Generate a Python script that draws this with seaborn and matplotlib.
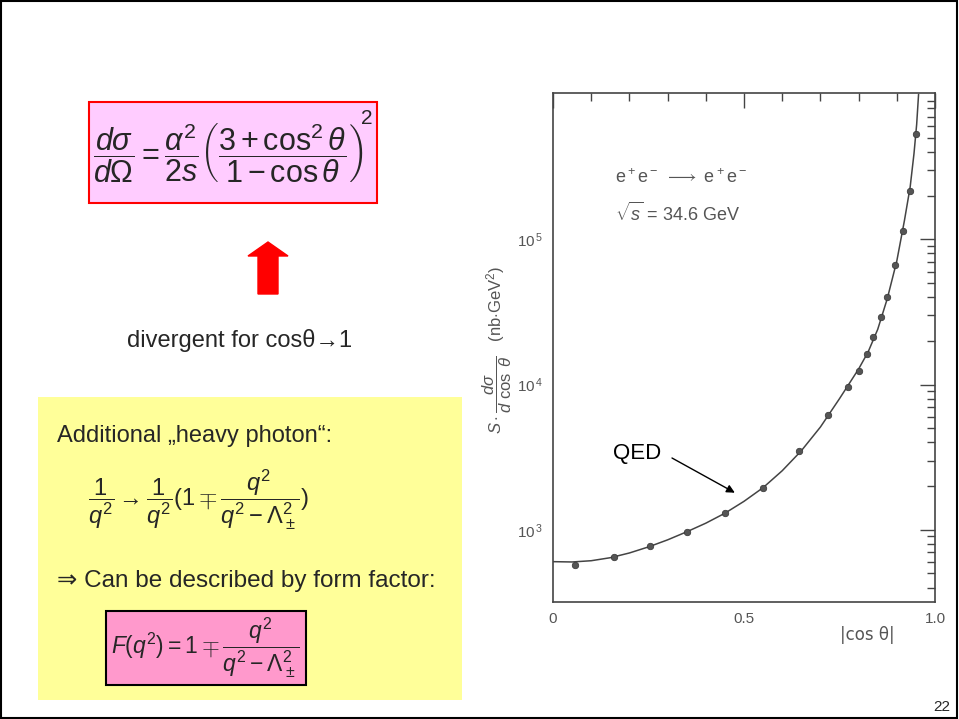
import numpy as np
import pandas as pd
import matplotlib
matplotlib.use("Agg")
import matplotlib.pyplot as plt
import matplotlib.patches as mpatches
from matplotlib.ticker import FixedLocator, LogLocator, NullFormatter, MultipleLocator
import seaborn as sns

# ---- data ----
cos_points = [0.058, 0.159, 0.255, 0.352, 0.451, 0.549, 0.645, 0.721, 0.772, 0.800,
              0.821, 0.839, 0.859, 0.874, 0.895, 0.915, 0.934, 0.950]
xs_points = [574, 648, 767, 968, 1303, 1950, 3510, 6140, 9570, 12400,
             16300, 21200, 29100, 40000, 66200, 114000, 215000, 536000]

cos_curve = [0.0, 0.05, 0.10, 0.15, 0.20, 0.25, 0.30, 0.35, 0.40, 0.45, 0.50,
             0.55, 0.60, 0.65, 0.70, 0.75, 0.80, 0.825, 0.85, 0.875, 0.90,
             0.92, 0.935, 0.945, 0.952, 0.957]
xs_curve = [603, 600, 612, 642, 692, 762, 852, 968, 1110, 1300, 1570,
            1950, 2550, 3500, 5100, 8000, 12800, 16800, 24000, 39000, 71000,
            135000, 230000, 390000, 620000, 1000000]

ytick_vals = [1e3, 1e4, 1e5]
ytick_labels = [r"10$^{\,3}$", r"10$^{\,4}$", r"10$^{\,5}$"]
xtick_vals = [0, 0.5, 1.0]
xtick_labels = ["0", "0.5", "1.0"]

pts = pd.DataFrame({"cos": cos_points, "xs": xs_points})
crv = pd.DataFrame({"cos": cos_curve, "xs": xs_curve})

sns.set_style("white")
plt.rcParams["font.family"] = ["Liberation Sans", "DejaVu Sans"]
plt.rcParams["mathtext.fontset"] = "custom"
plt.rcParams["mathtext.rm"] = "Liberation Sans"
plt.rcParams["mathtext.it"] = "Liberation Sans:italic"
plt.rcParams["mathtext.bf"] = "Liberation Sans:bold"

W, H = 959, 719
fig = plt.figure(figsize=(W / 100, H / 100), dpi=100)

def fx(px):
    return px / W

def fy(py):
    return 1 - py / H

# slide border
fig.patches.append(mpatches.Rectangle((0.001, 0.001), 0.997, 0.997, transform=fig.transFigure,
                                      fill=False, edgecolor="black", linewidth=1.5))

# ---- chart ----
gray = "#555555"
ax = fig.add_axes([fx(553), fy(602), fx(935) - fx(553), fy(93) - fy(602)])
sns.lineplot(data=crv, x="cos", y="xs", ax=ax, color="#444444", linewidth=1.1)
sns.scatterplot(data=pts, x="cos", y="xs", ax=ax, color="#555555", s=22, edgecolor="#333333",
                linewidth=0.5, zorder=3)
ax.set_yscale("log")
ax.set_xlim(0, 1.0)
ax.set_ylim(318, 1.02e6)
ax.set_xlabel("")
ax.set_ylabel("")
for s in ax.spines.values():
    s.set_color("#444444")
    s.set_linewidth(1.2)

ax.xaxis.set_major_locator(FixedLocator(xtick_vals))
ax.set_xticklabels(xtick_labels)
ax.xaxis.set_minor_locator(MultipleLocator(0.1))
ax.yaxis.set_major_locator(FixedLocator(ytick_vals))
ax.set_yticklabels(ytick_labels)
ax.yaxis.set_minor_locator(LogLocator(base=10, subs=np.arange(2, 10)))
ax.yaxis.set_minor_formatter(NullFormatter())
ax.tick_params(which="major", direction="in", length=11, width=1.0, color="#444444",
               top=True, right=True, labelsize=11, labelcolor=gray, pad=7)
ax.tick_params(which="minor", direction="in", length=6, width=1.0, color="#444444",
               top=True, right=True)

ax.text(0.75, -0.065, "|cos θ|", transform=ax.transAxes, fontsize=12, color=gray,
        ha="left", va="center", family=["DejaVu Sans"])
fig.text(fx(497), fy(350), r"$S\cdot\dfrac{d\sigma}{d\ \cos\ \theta}$   (nb$\cdot$GeV$^2$)",
         rotation=90, ha="center", va="center", fontsize=12, color=gray)
fig.text(fx(615), fy(178), r"e$^+$e$^-$ $\longrightarrow$ e$^+$e$^-$", fontsize=13,
         color=gray, ha="left", va="center")
fig.text(fx(615), fy(213), r"$\sqrt{s}$ = 34.6 GeV", fontsize=13, color=gray,
         ha="left", va="center")

fig.text(fx(613), fy(453), "QED", fontsize=16, color="black", ha="left", va="center")
ax.annotate("", xy=(0.476, 1800), xycoords="data",
            xytext=(fx(672), fy(458)), textcoords="figure fraction",
            arrowprops=dict(arrowstyle="-|>", color="black", lw=1.0,
                            shrinkA=0, shrinkB=0, mutation_scale=12))

# ---- left side of slide ----
fig.patches.append(mpatches.Rectangle((fx(89), fy(203)), fx(377) - fx(89), fy(102) - fy(203),
                                      transform=fig.transFigure, facecolor="#FFCCFF",
                                      edgecolor="red", linewidth=1.5))
fig.text(fx(228), fy(153),
         r"$\dfrac{d\sigma}{d\Omega}=\dfrac{\alpha^2}{2s}\left(\dfrac{3+\cos^2\theta}{1-\cos\theta}\right)$",
         fontsize=22, ha="center", va="center")
fig.text(fx(361), fy(118), "2", fontsize=15, ha="left", va="center")

arrow_px = [(258, 294), (278, 294), (278, 256), (288, 256), (268, 242), (248, 256), (258, 256)]
fig.patches.append(mpatches.Polygon([(fx(a), fy(b)) for a, b in arrow_px], closed=True,
                                    transform=fig.transFigure, facecolor="red", edgecolor="red"))

fig.text(fx(240), fy(340), "divergent for cosθ\u21921", fontsize=17,
         ha="center", va="center", family=["Liberation Sans", "DejaVu Sans"])

fig.patches.append(mpatches.Rectangle((fx(38), fy(700)), fx(462) - fx(38), fy(397) - fy(700),
                                      transform=fig.transFigure, facecolor="#FFFF99",
                                      edgecolor="none"))
fig.text(fx(57), fy(436), "Additional \u201eheavy photon\u201c:", fontsize=17,
         ha="left", va="center")
fig.text(fx(88), fy(500),
         r"$\dfrac{1}{q^2}\rightarrow\dfrac{1}{q^2}(1\mp\dfrac{q^2}{q^2-\Lambda_\pm^2})$",
         fontsize=17, ha="left", va="center")
fig.text(fx(57), fy(581), "\u21d2 Can be described by form factor:", fontsize=17.5,
         ha="left", va="center", family=["Liberation Sans", "DejaVu Sans"])
fig.patches.append(mpatches.Rectangle((fx(106), fy(685)), fx(306) - fx(106), fy(611) - fy(685),
                                      transform=fig.transFigure, facecolor="#FF99CC",
                                      edgecolor="black", linewidth=1.5))
fig.text(fx(111), fy(648), r"$F(q^2)=1\mp\dfrac{q^2}{q^2-\Lambda_\pm^2}$",
         fontsize=16.5, ha="left", va="center")

fig.text(fx(950), fy(707), "22", fontsize=11, ha="right", va="center")

fig.savefig("out.png", dpi=100)
